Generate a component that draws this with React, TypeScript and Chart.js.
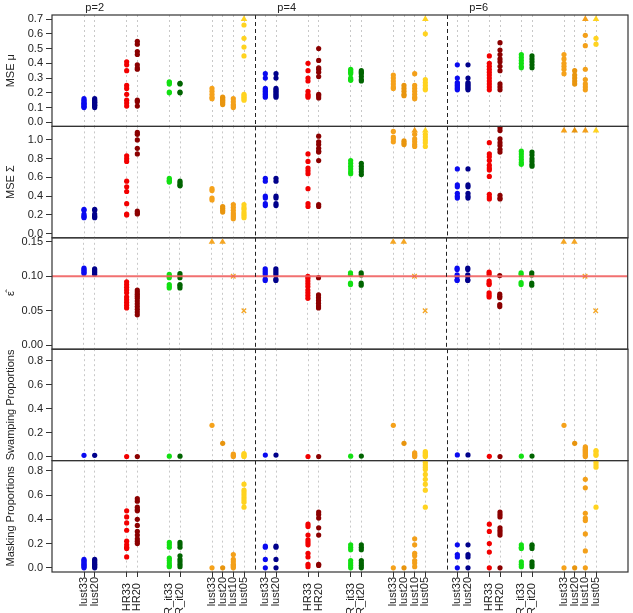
import React, { useEffect, useRef } from "react";
import { Chart, registerables } from "chart.js";

Chart.register(...registerables);
Chart.defaults.font.family = '"Liberation Sans", Arial, Helvetica, sans-serif';

// ---------------- categories, axis labels ----------------
const groupLabels = ["p=2", "p=4", "p=6"];
const methodLabels = ["lust33", "lust20", "HR33", "HR20", "R_it33", "R_it20", "lust33", "lust20", "lust10", "lust05"];
const methodX_p2 = [1, 2, 5, 6, 9, 10, 13, 14, 15, 16];
const methodX_p4 = [18, 19, 22, 23, 26, 27, 30, 31, 32, 33];
const methodX_p6 = [36, 37, 39, 40, 42, 43, 46, 47, 48, 49];
const groupDividerX = [17, 35];
const groupLabelX = [2, 20, 38];

const ticksMu = [0, 0.1, 0.2, 0.3, 0.4, 0.5, 0.6, 0.7];
const ticksSigma = [0, 0.2, 0.4, 0.6, 0.8, 1.0];
const ticksEps = [0, 0.05, 0.1, 0.15];
const ticksProp = [0, 0.2, 0.4, 0.6, 0.8];

const epsTrue = 0.1;
const adjTrim = [0.33, 0.2, 0.1, 0.05];

// ---------------- MSE mu ----------------
const muP2 = [
  [0.1, 0.105, 0.11, 0.12, 0.125, 0.13, 0.14, 0.15, 0.16],
  [0.1, 0.11, 0.115, 0.12, 0.13, 0.135, 0.14, 0.15, 0.16],
  [0.41, 0.39, 0.35, 0.25, 0.23, 0.19, 0.15, 0.13, 0.11],
  [0.55, 0.53, 0.48, 0.46, 0.39, 0.37, 0.36, 0.15, 0.14, 0.11],
  [0.275, 0.27, 0.26, 0.205, 0.2],
  [0.265, 0.26, 0.205, 0.2],
  [0.23, 0.21, 0.19, 0.17, 0.16],
  [0.17, 0.16, 0.15, 0.14, 0.13, 0.12],
  [0.16, 0.14, 0.12, 0.11, 0.1],
  [0.82, 0.66, 0.57, 0.51, 0.45, 0.19, 0.18, 0.17, 0.16, 0.15],
];
const muP4 = [
  [0.33, 0.3, 0.23, 0.22, 0.21, 0.2, 0.19, 0.18, 0.17],
  [0.33, 0.3, 0.23, 0.22, 0.21, 0.2, 0.19, 0.18, 0.17],
  [0.4, 0.35, 0.3, 0.28, 0.21, 0.19, 0.18, 0.17],
  [0.5, 0.42, 0.37, 0.36, 0.34, 0.31, 0.19, 0.18, 0.165],
  [0.36, 0.35, 0.34, 0.33, 0.3, 0.29, 0.285],
  [0.35, 0.34, 0.33, 0.31, 0.29, 0.28],
  [0.32, 0.3, 0.28, 0.26, 0.24, 0.23],
  [0.25, 0.23, 0.21, 0.19, 0.18],
  [0.33, 0.25, 0.23, 0.21, 0.19, 0.17, 0.16],
  [0.85, 0.6, 0.29, 0.27, 0.25, 0.23, 0.22],
];
const muP6 = [
  [0.39, 0.3, 0.27, 0.26, 0.25, 0.24, 0.23, 0.22],
  [0.39, 0.3, 0.27, 0.26, 0.25, 0.24, 0.23, 0.22],
  [0.45, 0.4, 0.38, 0.36, 0.34, 0.32, 0.3, 0.28, 0.26, 0.24, 0.22],
  [0.54, 0.49, 0.46, 0.43, 0.41, 0.38, 0.35, 0.26, 0.24, 0.22],
  [0.46, 0.44, 0.42, 0.4, 0.38, 0.37],
  [0.45, 0.43, 0.41, 0.39, 0.37],
  [0.46, 0.43, 0.4, 0.38, 0.36, 0.33],
  [0.35, 0.32, 0.3, 0.28, 0.26],
  [0.8, 0.59, 0.52, 0.36, 0.29, 0.26, 0.24, 0.22],
  [0.9, 0.57, 0.53],
];

// ---------------- MSE Sigma ----------------
const sigmaP2 = [
  [0.26, 0.25, 0.21, 0.19, 0.18, 0.17],
  [0.26, 0.25, 0.21, 0.19, 0.18, 0.17],
  [0.83, 0.8, 0.77, 0.56, 0.5, 0.45, 0.32, 0.21, 0.2],
  [1.08, 1.06, 1.0, 0.91, 0.85, 0.24, 0.22, 0.21],
  [0.59, 0.57, 0.56, 0.55],
  [0.56, 0.54, 0.52, 0.51],
  [0.48, 0.46, 0.38, 0.36],
  [0.29, 0.27, 0.25, 0.23],
  [0.31, 0.28, 0.25, 0.22, 0.2, 0.18, 0.16],
  [0.31, 0.28, 0.26, 0.23, 0.21, 0.19, 0.17],
];
const sigmaP4 = [
  [0.59, 0.56, 0.4, 0.38, 0.32, 0.3],
  [0.59, 0.56, 0.4, 0.38, 0.32, 0.3],
  [0.85, 0.77, 0.7, 0.67, 0.64, 0.48, 0.32, 0.29],
  [1.04, 0.98, 0.95, 0.91, 0.88, 0.87, 0.78, 0.31, 0.29],
  [0.78, 0.75, 0.72, 0.69, 0.66, 0.64],
  [0.75, 0.72, 0.69, 0.66, 0.63],
  [1.09, 1.03, 1.01, 0.98],
  [0.99, 0.97, 0.95],
  [1.25, 1.06, 1.01, 0.98, 0.95, 0.93],
  [1.25, 1.06, 1.03, 1.0, 0.97, 0.93],
];
const sigmaP6 = [
  [0.69, 0.52, 0.5, 0.43, 0.4, 0.38],
  [0.69, 0.52, 0.5, 0.43, 0.4, 0.38],
  [0.97, 0.85, 0.82, 0.78, 0.73, 0.7, 0.68, 0.61, 0.42, 0.39, 0.37],
  [1.13, 1.1, 1.01, 0.97, 0.94, 0.9, 0.87, 0.41, 0.38, 0.37],
  [0.88, 0.85, 0.82, 0.79, 0.76, 0.74],
  [0.87, 0.84, 0.8, 0.77, 0.74, 0.72],
  [1.6],
  [1.4],
  [1.5],
  [1.8],
];

// ---------------- epsilon hat (robust / HR columns) ----------------
const epsP2 = [
  [0.112, 0.11, 0.108, 0.106, 0.104],
  [0.111, 0.109, 0.107, 0.105, 0.103],
  [0.092, 0.088, 0.084, 0.08, 0.076, 0.07, 0.066, 0.062, 0.058, 0.054],
  [0.08, 0.077, 0.074, 0.071, 0.068, 0.064, 0.06, 0.056, 0.052, 0.048, 0.044],
  [0.103, 0.1, 0.098, 0.088, 0.085, 0.083],
  [0.104, 0.101, 0.098, 0.088, 0.086, 0.083],
];
const epsP4 = [
  [0.111, 0.108, 0.105, 0.102, 0.096, 0.094],
  [0.111, 0.108, 0.105, 0.102, 0.096, 0.094],
  [0.1, 0.097, 0.093, 0.089, 0.085, 0.08, 0.076, 0.072, 0.068],
  [0.098, 0.073, 0.069, 0.065, 0.061, 0.057, 0.054],
  [0.105, 0.103, 0.09, 0.088],
  [0.105, 0.102, 0.09, 0.087],
];
const epsP6 = [
  [0.112, 0.11, 0.102, 0.1, 0.095, 0.094],
  [0.112, 0.11, 0.102, 0.1, 0.095, 0.094],
  [0.106, 0.103, 0.093, 0.09, 0.088, 0.076, 0.073, 0.07],
  [0.101, 0.074, 0.071, 0.069, 0.059, 0.056],
  [0.105, 0.103, 0.091, 0.088],
  [0.105, 0.102, 0.09, 0.087],
];

// ---------------- Swamping proportions ----------------
const swampP2 = [
  [0.01], [0.01], [0.0], [0.0], [0.003], [0.003],
  [0.26], [0.11], [0.02, 0.01, 0.0], [0.025, 0.015, 0.005, 0.0],
];
const swampP4 = [
  [0.012], [0.012], [0.0], [0.0], [0.003], [0.004],
  [0.26], [0.11], [0.03, 0.02, 0.01, 0.0], [0.04, 0.03, 0.02, 0.01, 0.0],
];
const swampP6 = [
  [0.013], [0.013], [0.002], [0.0], [0.003], [0.004],
  [0.26], [0.11], [0.08, 0.07, 0.06, 0.05, 0.04, 0.03, 0.02, 0.01, 0.0], [0.05, 0.04, 0.02, 0.01],
];

// ---------------- Masking proportions ----------------
const maskP2 = [
  [0.07, 0.06, 0.05, 0.04, 0.03, 0.02, 0.01, 0.0],
  [0.07, 0.06, 0.05, 0.04, 0.03, 0.02, 0.01, 0.0],
  [0.47, 0.42, 0.37, 0.31, 0.22, 0.19, 0.17, 0.16, 0.09],
  [0.57, 0.55, 0.5, 0.48, 0.47, 0.4, 0.35, 0.3, 0.27, 0.24, 0.22, 0.2],
  [0.21, 0.19, 0.17, 0.08, 0.06, 0.04, 0.02, 0.01],
  [0.21, 0.19, 0.17, 0.1, 0.07, 0.05, 0.03, 0.01],
  [0.0],
  [0.0],
  [0.11, 0.07, 0.05, 0.03, 0.02, 0.01, 0.0],
  [0.69, 0.64, 0.62, 0.6, 0.58, 0.56, 0.54, 0.5],
];
const maskP4 = [
  [0.18, 0.17, 0.07, 0.0],
  [0.18, 0.17, 0.07, 0.0],
  [0.36, 0.34, 0.27, 0.23, 0.21, 0.19, 0.12, 0.09, 0.03, 0.01],
  [0.46, 0.44, 0.41, 0.33, 0.27, 0.03, 0.02],
  [0.19, 0.17, 0.15, 0.06, 0.04, 0.02, 0.0],
  [0.19, 0.17, 0.15, 0.06, 0.04, 0.02, 0.0],
  [0.0],
  [0.0],
  [0.24, 0.19, 0.12, 0.1, 0.06, 0.04, 0.01],
  [0.87, 0.85, 0.83, 0.81, 0.77, 0.73, 0.69, 0.64, 0.5],
];
const maskP6 = [
  [0.19, 0.11, 0.09, 0.0],
  [0.19, 0.11, 0.09, 0.0],
  [0.36, 0.3, 0.2, 0.13, 0.0],
  [0.46, 0.44, 0.42, 0.33, 0.31, 0.29, 0.27, 0.0],
  [0.19, 0.17, 0.16, 0.05, 0.03, 0.01],
  [0.19, 0.18, 0.16, 0.05, 0.03, 0.01],
  [0.0],
  [0.0],
  [0.73, 0.66, 0.45, 0.41, 0.39, 0.28, 0.14, 0.0],
  [0.87, 0.85, 0.83, 0.5],
];

// ---------------- styles ----------------
const methodColors = [
  "#0a0af0", "#00008b", "#f20000", "#8b0000", "#12e012",
  "#006400", "#f5a21b", "#e8950e", "#f3a01a", "#ffd320",
];
const nominalColor = "#f5a623";
const gridColor = "#c8c8c8";
const inkColor = "#222222";

const groupX = [methodX_p2, methodX_p4, methodX_p6];
const allX = [...methodX_p2, ...methodX_p4, ...methodX_p6];

type Panel = {
  title: string;
  groups: number[][][];
  ticks: number[];
  decimals: number;
  min: number;
  max: number;
  cap: number;
  nominal: boolean;
};

const panels: Panel[] = [
  { title: "MSE μ", groups: [muP2, muP4, muP6], ticks: ticksMu, decimals: 1, min: -0.028, max: 0.728, cap: 0.7, nominal: false },
  { title: "MSE Σ", groups: [sigmaP2, sigmaP4, sigmaP6], ticks: ticksSigma, decimals: 1, min: -0.044, max: 1.144, cap: 1.1, nominal: false },
  { title: "ε̂", groups: [epsP2, epsP4, epsP6], ticks: ticksEps, decimals: 2, min: -0.006, max: 0.156, cap: 0.15, nominal: true },
  { title: "Swamping Proportions", groups: [swampP2, swampP4, swampP6], ticks: ticksProp, decimals: 1, min: -0.034, max: 0.894, cap: 0.86, nominal: false },
  { title: "Masking Proportions", groups: [maskP2, maskP4, maskP6], ticks: ticksProp, decimals: 1, min: -0.034, max: 0.884, cap: 0.85, nominal: false },
];

const W = 633;
const H = 613;
const AREA_TOP = 15;
const AREA_BOTTOM = 572;
const AREA_LEFT = 52;
const AREA_RIGHT = 628;
const PANEL_H = (AREA_BOTTOM - AREA_TOP) / panels.length;

function methodPoints(p: Panel, m: number) {
  const pts: { x: number; y: number; over: boolean }[] = [];
  p.groups.forEach((g, gi) => {
    (g[m] || []).forEach((v) => {
      const over = v > p.max;
      pts.push({ x: groupX[gi][m], y: over ? p.cap : v, over });
    });
  });
  return pts;
}

function nominalPoints(p: Panel) {
  const pts: { x: number; y: number; over: boolean }[] = [];
  groupX.forEach((xs) => {
    adjTrim.forEach((v, k) => {
      const over = v > p.max;
      pts.push({ x: xs[6 + k], y: over ? p.cap : v, over });
    });
  });
  return pts;
}

function decorPlugin(index: number) {
  return {
    id: "decor" + index,
    afterDatasetsDraw(chart: any) {
      const { ctx, chartArea: a } = chart;
      const x = chart.scales.x;
      ctx.save();
      ctx.strokeStyle = inkColor;
      ctx.lineWidth = 1;
      ctx.setLineDash([4, 3]);
      groupDividerX.forEach((v) => {
        const px = Math.round(x.getPixelForValue(v)) + 0.5;
        ctx.beginPath();
        ctx.moveTo(px, a.top);
        ctx.lineTo(px, a.bottom);
        ctx.stroke();
      });
      ctx.setLineDash([]);
      ctx.strokeStyle = "#333333";
      ctx.lineWidth = 1.2;
      ctx.strokeRect(a.left, a.top, a.right - a.left, a.bottom - a.top);
      if (index === 0) {
        ctx.fillStyle = inkColor;
        ctx.font = '11px "Liberation Sans", Arial, sans-serif';
        ctx.textAlign = "center";
        ctx.textBaseline = "alphabetic";
        groupLabels.forEach((t, i) => {
          ctx.fillText(t, x.getPixelForValue(groupLabelX[i]), a.top - 4);
        });
      }
      ctx.restore();
    },
  };
}

function makeConfig(p: Panel, i: number): any {
  const top = AREA_TOP + i * PANEL_H;
  const bottom = top + PANEL_H;
  const isLast = i === panels.length - 1;
  const datasets: any[] = [];
  if (p.nominal) {
    datasets.push({
      type: "line",
      data: [
        { x: -2, y: epsTrue },
        { x: 52, y: epsTrue },
      ],
      showLine: true,
      borderColor: "rgba(240,96,96,0.9)",
      borderWidth: 2,
      pointRadius: 0,
      order: -1,
    });
  }
  const nMethods = p.nominal ? 6 : methodLabels.length;
  for (let m = 0; m < nMethods; m++) {
    datasets.push({
      data: methodPoints(p, m),
      pointStyle: (c: any) => (c.raw && c.raw.over ? "triangle" : "circle"),
      pointRadius: (c: any) => (c.raw && c.raw.over ? 3.8 : 2.6),
      pointBackgroundColor: methodColors[m],
      pointBorderColor: methodColors[m],
      pointBorderWidth: 0,
      showLine: false,
    });
  }
  if (p.nominal) {
    datasets.push({
      data: nominalPoints(p),
      pointStyle: (c: any) => (c.raw && c.raw.over ? "triangle" : "crossRot"),
      pointRadius: (c: any) => (c.raw && c.raw.over ? 3.8 : 3.2),
      pointBorderWidth: (c: any) => (c.raw && c.raw.over ? 0 : 1.3),
      pointBackgroundColor: nominalColor,
      pointBorderColor: nominalColor,
      showLine: false,
    });
  }
  return {
    type: "scatter",
    data: { datasets },
    plugins: [decorPlugin(i)],
    options: {
      animation: false,
      responsive: false,
      devicePixelRatio: 1,
      events: [],
      layout: {
        padding: { left: 0, right: W - AREA_RIGHT, top, bottom: isLast ? 0 : H - bottom },
      },
      plugins: { legend: { display: false }, tooltip: { enabled: false } },
      scales: {
        x: {
          type: "linear",
          min: -2,
          max: 52,
          afterBuildTicks: (s: any) => {
            s.ticks = allX.map((v) => ({ value: v }));
          },
          afterFit: (s: any) => {
            s.height = isLast ? H - AREA_BOTTOM : 0;
          },
          grid: {
            display: true,
            color: gridColor,
            lineWidth: 1,
            drawTicks: isLast,
            tickLength: 5,
            tickColor: "#333333",
            tickWidth: 1,
            tickBorderDash: [],
          },
          border: { display: false, dash: [2, 3] },
          ticks: {
            display: isLast,
            autoSkip: false,
            maxRotation: 90,
            minRotation: 90,
            padding: 0,
            color: inkColor,
            font: { size: 11 },
            callback: (_v: any, idx: number) => {
              const l = methodLabels[idx % methodLabels.length];
              return l.startsWith("lust") ? l : l + "  ";
            },
          },
        },
        y: {
          type: "linear",
          position: "left",
          min: p.min,
          max: p.max,
          afterBuildTicks: (s: any) => {
            s.ticks = p.ticks.map((v) => ({ value: v }));
          },
          afterFit: (s: any) => {
            s.width = AREA_LEFT;
          },
          grid: {
            drawOnChartArea: false,
            drawTicks: true,
            tickLength: 6,
            tickColor: "#333333",
            tickWidth: 1,
          },
          border: { display: false },
          ticks: {
            autoSkip: false,
            padding: 3,
            color: inkColor,
            font: { size: 11 },
            callback: (v: any) => Number(v).toFixed(p.decimals),
          },
          title: {
            display: true,
            text: p.title,
            color: inkColor,
            font: { size: 11 },
            padding: { top: 4, bottom: 0 },
          },
        },
      },
    },
  };
}

export default function App() {
  const refs = useRef<(HTMLCanvasElement | null)[]>([]);
  useEffect(() => {
    const charts = panels.map((p, i) => new Chart(refs.current[i] as HTMLCanvasElement, makeConfig(p, i)));
    return () => charts.forEach((c) => c.destroy());
  }, []);
  return (
    <div style={{ position: "fixed", left: 0, top: 0, width: W, height: H, background: "#ffffff", overflow: "hidden" }}>
      {panels.map((_, i) => (
        <canvas
          key={i}
          ref={(el) => {
            refs.current[i] = el;
          }}
          width={W}
          height={H}
          style={{ position: "absolute", left: 0, top: 0, width: W, height: H }}
        />
      ))}
    </div>
  );
}
